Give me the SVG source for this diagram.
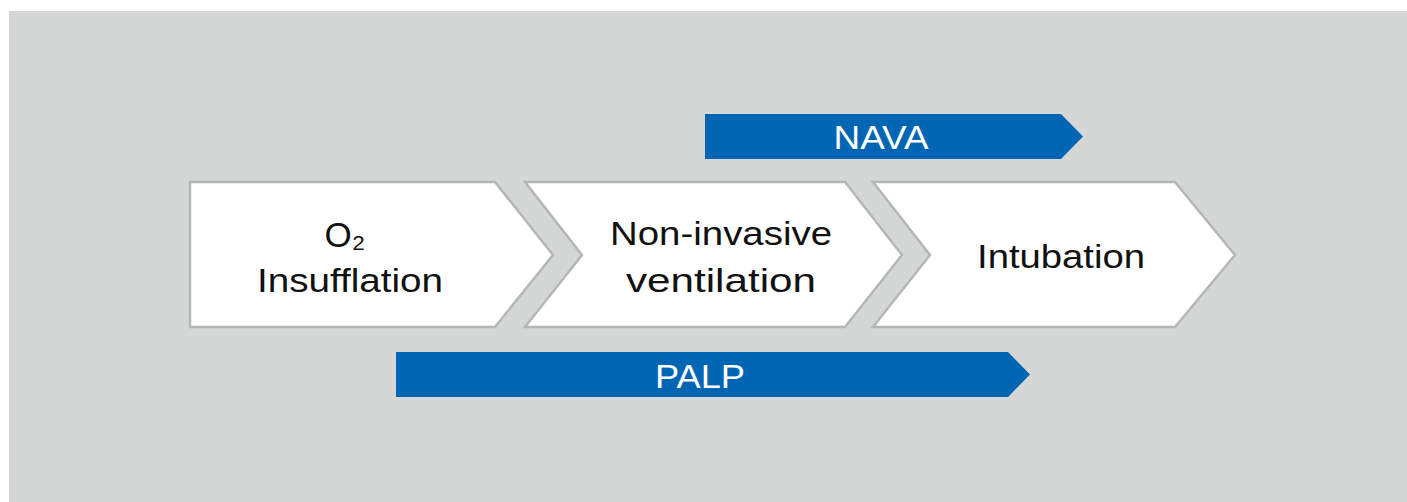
<svg xmlns="http://www.w3.org/2000/svg" width="1407" height="502" viewBox="0 0 1407 502">
<style>
.chev{fill:#ffffff;stroke:#b4b7b7;stroke-width:2.5;stroke-linejoin:miter}
.bar{fill:#0066b3}
.t{font-family:"Liberation Sans",Arial,sans-serif;font-size:34px;fill:#111111;text-anchor:middle}
.w{font-family:"Liberation Sans",Arial,sans-serif;font-size:34px;fill:#ffffff;text-anchor:middle}
</style>
<rect x="0" y="0" width="1407" height="502" fill="#ffffff"/>
<rect x="9" y="11" width="1398" height="491" fill="#d5d7d6"/>
<g id="nava">
<polygon class="bar" points="705,114 1061,114 1083,136.5 1061,159 705,159"/>
<text class="w" x="881" y="149" textLength="95" lengthAdjust="spacingAndGlyphs">NAVA</text>
</g>
<g id="o2">
<polygon class="chev" points="190,182 495,182 553,255 495,327 190,327"/>
<text class="t" x="345" y="247" style="font-size:35px">O₂</text>
<text class="t" x="350" y="292" textLength="186" lengthAdjust="spacingAndGlyphs">Insufflation</text>
</g>
<g id="niv">
<polygon class="chev" points="525,182 845,182 902,255 845,327 525,327 582,255"/>
<text class="t" x="721" y="245" textLength="222" lengthAdjust="spacingAndGlyphs">Non-invasive</text>
<text class="t" x="721" y="292" textLength="190" lengthAdjust="spacingAndGlyphs">ventilation</text>
</g>
<g id="intubation">
<polygon class="chev" points="873,182 1175,182 1235,255 1175,327 873,327 930,255"/>
<text class="t" x="1061" y="268" textLength="168" lengthAdjust="spacingAndGlyphs">Intubation</text>
</g>
<g id="palp">
<polygon class="bar" points="396,352 1008,352 1030,374.5 1008,397 396,397"/>
<text class="w" x="700" y="388" textLength="90" lengthAdjust="spacingAndGlyphs">PALP</text>
</g>
<g id="connectors"></g>
</svg>
